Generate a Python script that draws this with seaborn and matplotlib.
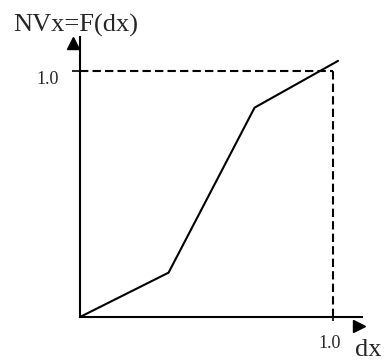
import matplotlib
matplotlib.use("Agg")
import matplotlib.pyplot as plt
import seaborn as sns
import pandas as pd
from matplotlib.transforms import ScaledTranslation

# Dados da curva NVx = F(dx)
dx = [0.0, 0.35, 0.69, 1.02]
nvx = [0.0, 0.18, 0.85, 1.04]
ref_x = 1.0
ref_y = 1.0

df = pd.DataFrame({'dx': dx, 'NVx': nvx})

sns.set_style("white")
plt.rcParams['font.family'] = ['Liberation Serif', 'DejaVu Serif']

fig = plt.figure(figsize=(3.85, 3.62), dpi=100)
ax = fig.add_axes([80 / 385, 45 / 362, 282 / 385, 280 / 362])

sns.lineplot(data=df, x='dx', y='NVx', color='black', linewidth=1.5, ax=ax)

# Linhas tracejadas de referência
ax.plot([0, ref_x], [ref_y, ref_y], color='black', linewidth=1.5, dashes=(4, 2))
ax.plot([ref_x, ref_x], [0, ref_y], color='black', linewidth=1.5, dashes=(4, 2))

ax.set_xlim(0, 282 / 253)
ax.set_ylim(0, 280 / 246.3)

for s in ['top', 'right']:
    ax.spines[s].set_visible(False)
for s in ['left', 'bottom']:
    ax.spines[s].set_linewidth(1.5)
    ax.spines[s].set_color('black')

ax.set_xticks([ref_x])
ax.set_xticklabels(['1.0'], fontsize=13)
ax.set_yticks([ref_y])
ax.set_yticklabels(['1.0'], fontsize=13)
ax.tick_params(axis='y', left=True, length=6, width=1.2, pad=9, color='black')
ax.tick_params(axis='x', bottom=True, length=3, width=1.2, pad=10, color='black')
ax.set_xlabel('')
ax.set_ylabel('')

for lab in ax.get_yticklabels():
    lab.set_transform(lab.get_transform() + ScaledTranslation(0, -0.07, fig.dpi_scale_trans))
for lab in ax.get_xticklabels():
    lab.set_transform(lab.get_transform() + ScaledTranslation(-0.035, 0, fig.dpi_scale_trans))

# Setas dos eixos
ax.plot(-0.025, 0.979, marker='^', color='black', markersize=9, transform=ax.transAxes, clip_on=False)
ax.plot(0.989, -0.032, marker='>', color='black', markersize=9, transform=ax.transAxes, clip_on=False)

fig.text(13 / 385, 1 - 31.5 / 362, 'NVx=F(dx)', fontsize=19, va='baseline', ha='left')
fig.text(355 / 385, 6 / 362, 'dx', fontsize=19, va='baseline', ha='left')

fig.savefig('out.png', dpi=100)
